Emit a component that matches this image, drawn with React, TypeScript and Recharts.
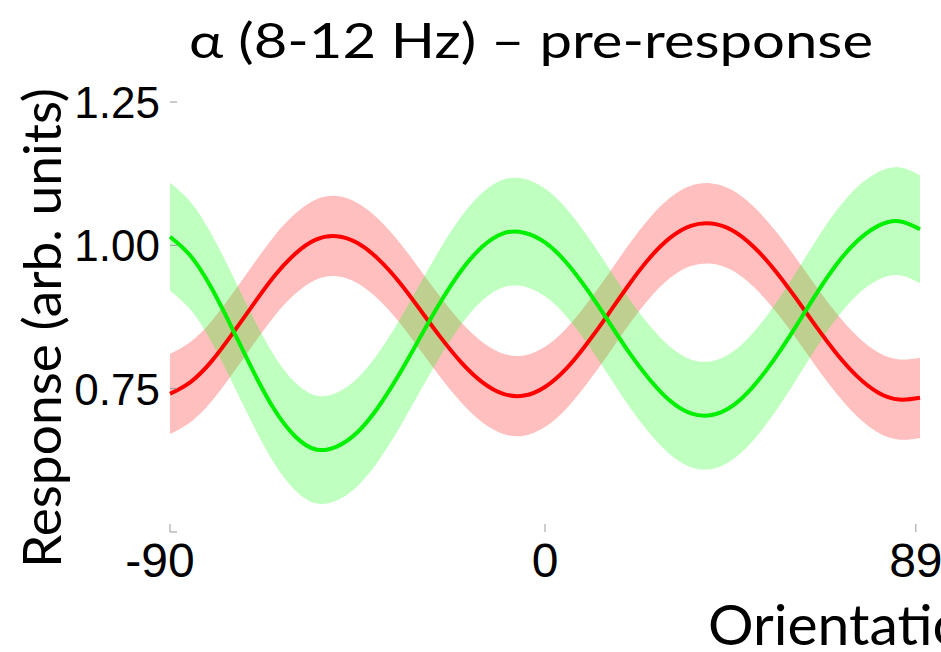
import React from "react";
import { ComposedChart, Area, Line, XAxis, YAxis } from "recharts";

const orientations = [
  -90, -85, -80, -75, -70, -65, -60, -55, -50, -45, -40, -35, -30, -25, -20, -15, -10, -5, 0,
  5, 10, 15, 20, 25, 30, 35, 40, 45, 50, 55, 60, 65, 70, 75, 80, 85, 90,
];
const redMean = [
  0.741, 0.762, 0.798, 0.846, 0.897, 0.946, 0.985, 1.01, 1.016, 1.004, 0.976, 0.936, 0.888, 0.839, 0.795, 0.761, 0.741, 0.738, 0.753,
  0.784, 0.828, 0.878, 0.93, 0.977, 1.013, 1.034, 1.038, 1.026, 0.998, 0.958, 0.91, 0.859, 0.811, 0.771, 0.743, 0.731, 0.734,
];
const greenMean = [
  1.015, 0.981, 0.925, 0.854, 0.78, 0.714, 0.667, 0.644, 0.649, 0.674, 0.718, 0.775, 0.839, 0.902, 0.957, 0.998, 1.021, 1.022, 1.005,
  0.971, 0.924, 0.87, 0.815, 0.767, 0.729, 0.707, 0.704, 0.72, 0.754, 0.801, 0.856, 0.914, 0.967, 1.008, 1.034, 1.042, 1.028,
];
const redSem = 0.07;
const greenSem = 0.094;

const xTicks = [-90, 0, 89];
const yTicks = [0.5, 0.75, 1.0, 1.25];
const yTickLabels = ["", "0.75", "1.00", "1.25"];

const titleText = "α (8-12 Hz) – pre-response";
const yLabelText = "Response (arb. units)";
const xLabelText = "Orientation";

const rows = orientations.map((x, i) => ({
  x,
  red: redMean[i],
  green: greenMean[i],
  redBand: [redMean[i] - redSem, redMean[i] + redSem],
  greenBand: [greenMean[i] - greenSem, greenMean[i] + greenSem],
}));

const tickFont = "'Liberation Sans', Arial, sans-serif";
const labelFont = "Lato, 'Open Sans', sans-serif";

const XTick = (props: any) => {
  const { x, y, payload } = props;
  const dx = payload.value < 0 ? -10 : 0;
  return (
    <text x={x + dx} y={y} dy={35} textAnchor="middle" fontSize={48} fontFamily={tickFont} fill="#000">
      {payload.value}
    </text>
  );
};

const YTick = (props: any) => {
  const { x, y, payload } = props;
  const idx = yTicks.indexOf(payload.value);
  const label = idx >= 0 ? yTickLabels[idx] : "";
  return (
    <text x={x} y={y} dy={16} textAnchor="end" fontSize={44} fontFamily={tickFont} fill="#000">
      {label}
    </text>
  );
};

export default function App() {
  return (
    <div style={{ position: "absolute", left: 0, top: 0, width: 941, height: 652, background: "#fff", overflow: "hidden" }}>
      <ComposedChart width={941} height={652} data={rows} margin={{ top: 102, right: 21, bottom: 0, left: 70 }}>
        <XAxis
          dataKey="x"
          type="number"
          domain={[-90, 90]}
          ticks={xTicks}
          interval={0}
          height={120}
          axisLine={false}
          tickLine={{ stroke: "#999", strokeWidth: 1 }}
          tickSize={-8}
          tickMargin={18}
          tick={<XTick />}
        />
        <YAxis
          type="number"
          domain={[0.5, 1.25]}
          ticks={yTicks}
          interval={0}
          width={100}
          axisLine={false}
          tickLine={{ stroke: "#999", strokeWidth: 1 }}
          tickSize={-7}
          tickMargin={17}
          tick={<YTick />}
        />
        <Area type="natural" dataKey="redBand" stroke="none" fill="#ff0000" fillOpacity={0.25} isAnimationActive={false} dot={false} activeDot={false} />
        <Area type="natural" dataKey="greenBand" stroke="none" fill="#00ff00" fillOpacity={0.25} isAnimationActive={false} dot={false} activeDot={false} />
        <Line type="natural" dataKey="red" stroke="#ff0000" strokeWidth={4} dot={false} activeDot={false} isAnimationActive={false} />
        <Line type="natural" dataKey="green" stroke="#00f000" strokeWidth={4} dot={false} activeDot={false} isAnimationActive={false} />
      </ComposedChart>
      <svg width={941} height={652} style={{ position: "absolute", left: 0, top: 0, pointerEvents: "none" }}>
        <text x={189} y={58} fontFamily={labelFont} fontSize={48} textLength={684} lengthAdjust="spacingAndGlyphs" fill="#000">
          {titleText}
        </text>
        <text transform="translate(61,568) rotate(-90)" fontFamily={labelFont} fontSize={52} textLength={480} lengthAdjust="spacingAndGlyphs" fill="#000">
          {yLabelText}
        </text>
        <text x={708} y={645} fontFamily={labelFont} fontSize={57} fill="#000">
          {xLabelText}
        </text>
      </svg>
    </div>
  );
}
